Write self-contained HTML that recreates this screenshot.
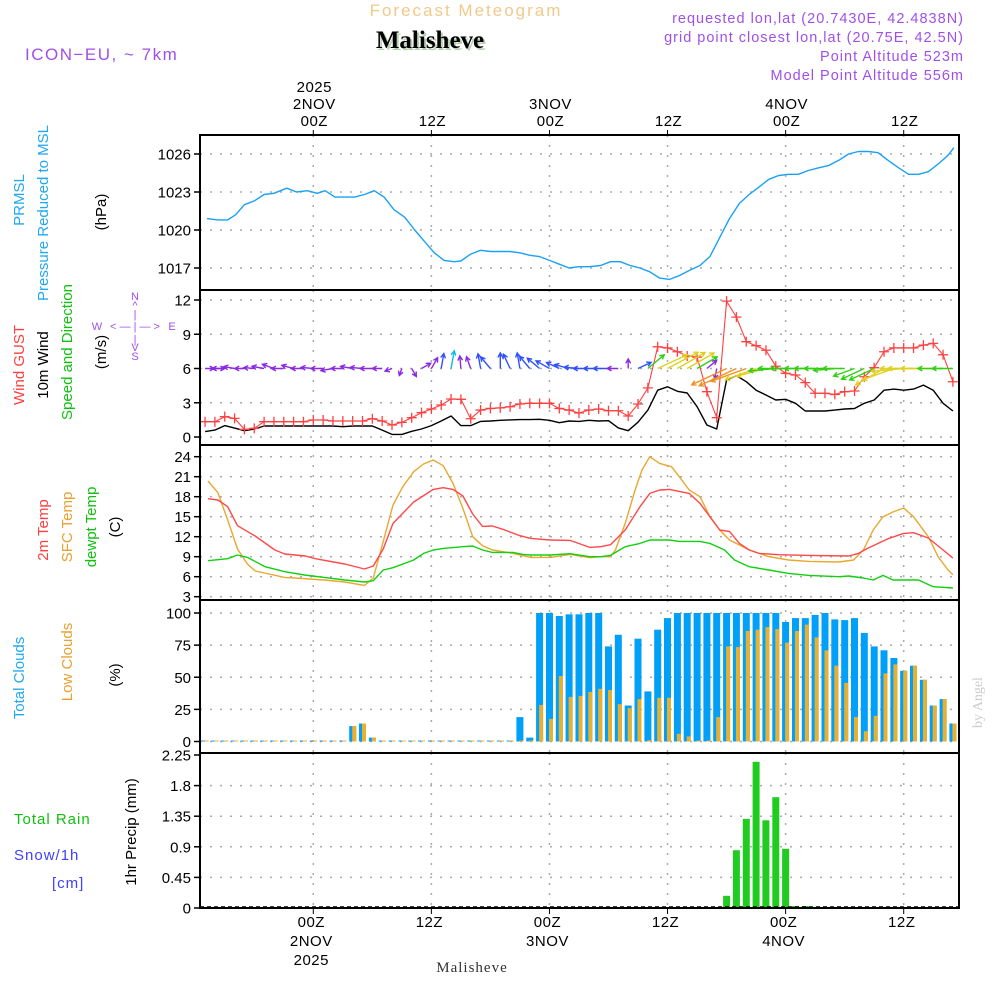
<!DOCTYPE html>
<html><head><meta charset="utf-8"><style>
html,body{margin:0;padding:0;background:#fff;}
svg{display:block;}
</style></head><body>
<svg id="chart" width="1000" height="1000" viewBox="0 0 1000 1000" xmlns="http://www.w3.org/2000/svg" font-family="Liberation Sans, sans-serif">
<rect width="1000" height="1000" fill="#fff"/>
<!-- header -->
<text x="466" y="16" font-size="17" fill="#f2c98a" text-anchor="middle" letter-spacing="2">Forecast Meteogram</text>
<text x="432" y="50" font-size="25" font-weight="bold" fill="#b8d0b0" text-anchor="middle" font-family="Liberation Serif, serif">Malisheve</text>
<text x="430" y="48" font-size="25" font-weight="bold" fill="#000" text-anchor="middle" font-family="Liberation Serif, serif">Malisheve</text>
<text x="25" y="60" font-size="17" fill="#a050e8" letter-spacing="1.5">ICON−EU, ~ 7km</text>
<g font-size="14.5" fill="#a050e8" text-anchor="end" letter-spacing="1">
<text x="964" y="23">requested lon,lat (20.7430E, 42.4838N)</text>
<text x="964" y="42">grid point closest lon,lat (20.75E, 42.5N)</text>
<text x="964" y="61">Point Altitude 523m</text>
<text x="964" y="80">Model Point Altitude 556m</text>
</g>
<text transform="translate(982,728) rotate(-90)" font-size="14" fill="#ccc" font-family="Liberation Serif, serif">by Angel</text>
<text x="472" y="972" font-size="15" fill="#333" text-anchor="middle" font-family="Liberation Serif, serif" letter-spacing="1">Malisheve</text>

<!-- left labels -->
<g font-size="15">
<text transform="translate(24,200) rotate(-90)" fill="#20a8f0" text-anchor="middle">PRMSL</text>
<text transform="translate(48,213) rotate(-90)" fill="#20a8f0" text-anchor="middle">Pressure Reduced to MSL</text>
<text transform="translate(106,212) rotate(-90)" fill="#000" text-anchor="middle">(hPa)</text>
</g>
<g font-size="15">
<text transform="translate(24,365) rotate(-90)" fill="#ff4040" text-anchor="middle">Wind GUST</text>
<text transform="translate(48,365) rotate(-90)" fill="#000" text-anchor="middle">10m Wind</text>
<text transform="translate(72,352) rotate(-90)" fill="#10c010" text-anchor="middle">Speed and Direction</text>
<text transform="translate(106,352) rotate(-90)" fill="#000" text-anchor="middle">(m/s)</text>
<g fill="#a050e8" font-size="11" text-anchor="middle">
<text x="135" y="300">N</text><text x="135" y="309">^</text><text x="135" y="318">|</text>
<text x="135" y="330">&lt; — | — &gt;</text>
<text x="97" y="330">W</text><text x="172" y="330">E</text>
<text x="135" y="343">|</text><text x="135" y="351">V</text><text x="135" y="360">S</text>
</g>
</g>
<g font-size="15">
<text transform="translate(48,530) rotate(-90)" fill="#ff4040" text-anchor="middle">2m Temp</text>
<text transform="translate(72,527) rotate(-90)" fill="#e8a030" text-anchor="middle">SFC Temp</text>
<text transform="translate(96,527) rotate(-90)" fill="#10c010" text-anchor="middle">dewpt Temp</text>
<text transform="translate(120,527) rotate(-90)" fill="#000" text-anchor="middle">(C)</text>
</g>
<g font-size="15">
<text transform="translate(24,678) rotate(-90)" fill="#20a8f0" text-anchor="middle">Total Clouds</text>
<text transform="translate(72,662) rotate(-90)" fill="#e8a030" text-anchor="middle">Low Clouds</text>
<text transform="translate(120,675) rotate(-90)" fill="#000" text-anchor="middle">(%)</text>
</g>
<g font-size="15">
<text x="14" y="824" fill="#10c010" letter-spacing="1">Total  Rain</text>
<text x="14" y="860" fill="#4040ff" letter-spacing="1">Snow/1h</text>
<text x="52" y="888" fill="#4040ff" letter-spacing="1">[cm]</text>
<text transform="translate(136,832) rotate(-90)" fill="#000" text-anchor="middle">1hr Precip (mm)</text>
</g>
<g id="plots"></g>
</svg>
<script>
// ---------- data ----------
const timeTickHours = [0, 12, 24, 36, 48, 60];
const topTickLines1 = ["2025", "", "", "", "", ""];
const topTickLines2 = ["2NOV", "", "3NOV", "", "4NOV", ""];
const topTickLines3 = ["00Z", "12Z", "00Z", "12Z", "00Z", "12Z"];
const botTickLines1 = ["00Z", "12Z", "00Z", "12Z", "00Z", "12Z"];
const botTickLines2 = ["2NOV", "", "3NOV", "", "4NOV", ""];
const botTickLines3 = ["2025", "", "", "", "", ""];

const pressureTicks = [1017, 1020, 1023, 1026];
const pressureHours = [-10.8,-9.7,-8.7,-7.9,-7.0,-6.0,-5.0,-4.0,-2.7,-1.7,-0.6,0.4,1.2,2.2,3.2,4.2,5.2,6.2,7.2,8.2,9.3,10.3,11.3,12.3,13.3,14.3,15,16,17,18,19,20,21,22,23,24,25,26,27,28,29.2,30.2,31.2,32.2,33.2,34.2,35.2,36.2,37.2,38.2,39.3,40.3,41.3,42.3,43.3,44.3,45.3,46.3,47.3,48.3,49.3,50.3,51.3,52.4,53.4,54.4,55.4,56.4,57.4,58.4,59.5,60.5,61.5,62.5,63.5,64.5,65.1];
const pressureVals = [1020.9,1020.8,1020.8,1021.2,1022.0,1022.3,1022.8,1022.9,1023.3,1023.0,1023.1,1022.9,1023.1,1022.6,1022.6,1022.6,1022.8,1023.1,1022.6,1021.6,1021.0,1020.0,1019.1,1018.2,1017.6,1017.5,1017.55,1018.1,1018.4,1018.3,1018.3,1018.3,1018.2,1018.0,1017.9,1017.6,1017.3,1017.0,1017.1,1017.1,1017.2,1017.5,1017.5,1017.2,1017.0,1016.7,1016.2,1016.1,1016.4,1016.8,1017.2,1017.9,1019.4,1020.9,1022.1,1022.8,1023.4,1024.0,1024.3,1024.4,1024.4,1024.7,1024.9,1025.1,1025.5,1026.0,1026.2,1026.2,1026.1,1025.5,1024.9,1024.4,1024.4,1024.6,1025.2,1025.9,1026.5];

const windTicks = [0, 3, 6, 9, 12];
const windStartHour = -11;
const gustVals = [1.34,1.34,1.78,1.63,0.67,0.76,1.34,1.34,1.34,1.34,1.34,1.49,1.49,1.4,1.4,1.4,1.4,1.6,1.4,1.05,1.28,1.69,2.13,2.45,2.8,3.33,3.3,1.6,2.36,2.5,2.55,2.65,2.89,2.95,2.95,2.95,2.5,2.36,2.1,2.36,
 2.45,2.3,2.3,1.84,2.89,4.3,7.9,7.8,7.47,7.1,7.0,3.97,1.69,11.9,10.5,8.35,8.0,7.6,6.2,5.58,5.43,4.76,3.83,3.83,3.73,3.97,4.03,5.28,6.07,7.47,7.8,7.8,7.8,8.05,8.2,7.2,4.84];
const speedVals = [0.47,0.6,1.0,0.78,0.55,0.7,0.96,0.96,0.96,0.96,0.96,0.96,0.96,0.96,0.9,0.96,0.96,0.96,0.6,0.23,0.23,0.5,0.7,1.0,1.4,1.84,1.0,1.0,1.37,1.4,1.46,1.5,1.52,1.52,1.55,1.46,1.25,1.4,1.37,1.46,
 1.4,1.43,0.8,0.55,1.3,2.36,4.1,4.4,4.0,3.85,2.65,1.05,0.7,5.0,5.37,4.84,4.1,3.68,3.24,3.3,2.95,2.28,2.28,2.28,2.36,2.45,2.5,2.95,3.24,4.1,4.2,4.1,4.2,4.55,4.1,2.95,2.28];
const windDirDeg = [0,0,180,170,180,175,170,160,180,165,180,175,180,190,180,170,175,180,180,200,250,300,30,60,80,80,95,110,100,130,90,115,100,130,140,150,155,165,175,180,180,180,180,90,25,40,25,28,30,30,30,40,260,205,205,200,200,195,185,180,180,180,180,180,185,180,200,205,205,210,200,185,180,180,180,180,180];

const tempTicks = [3, 6, 9, 12, 15, 18, 21, 24];
const t2mHours = [-10.7,-9.7,-8.7,-7.7,-5.9,-3.9,-2.9,-0.8,0.2,3.2,5.2,6.1,7.1,8.1,10.2,12.2,13.2,14.2,15.2,16.2,17.2,18.2,19.3,20.9,22.1,24.1,26.1,28.1,29.2,30.2,31.7,33.2,34.2,35.2,36.2,37.2,38.2,39.3,40.3,41.3,42.3,43.3,44.3,45.3,47.3,50.4,54.4,55.4,56.4,58.4,60,61,62.5,64,65];
const t2mVals = [17.7,17.5,16.5,13.65,12.1,10.0,9.4,9.1,8.7,7.9,7.15,7.6,10.15,14.0,17.2,19.1,19.35,19.1,18.1,15.4,13.55,13.6,13.1,12.2,11.75,11.5,11.45,10.4,10.5,10.8,13,16.5,18.5,19,19.1,18.8,18.5,17,15,13,12.8,11,10,9.5,9.3,9.2,9.1,9.5,10.3,11.7,12.5,12.6,11.8,10,8.8];
const sfcHours = [-10.7,-9.7,-8.7,-7.7,-6.7,-5.9,-2.9,-1.9,1.1,3.2,5.2,6.1,7.1,8.1,9.1,10.2,11.2,12.2,13.2,14.2,15.2,16.2,17.2,18.2,19.3,20.3,22.1,24.1,26.1,28.1,29.2,30.2,30.7,31.7,32.7,33.4,34.2,35.2,36.4,37.2,38.2,39.3,40.3,41.3,42.3,44.3,46.3,48.3,50.4,53.4,54.9,55.9,56.9,57.9,58.9,60,61,62.5,63.5,64.5,65];
const sfcVals = [20.35,18.6,14.5,10.15,7.9,6.85,5.9,5.8,5.5,5.2,4.7,5.8,11.25,16.75,19.5,21.75,22.9,23.5,22.65,20,16.25,12,10.65,10,9.75,9.5,8.9,8.9,9.35,8.85,9,9,10,14,19,22,24,23,22.5,21,19,18,15,13,11.5,10,9,8.5,8.3,8.2,8.5,10,13,15,15.7,16.3,15,12,9,7,6.3];
const dewHours = [-10.7,-8.7,-7.7,-6.7,-4.9,-2.9,-0.9,1.1,3.2,5.2,6.1,7.1,8.1,10.2,11.2,12.2,13.2,15.2,16.2,17.2,18.2,20.3,21.3,22.1,24.1,26.1,28.1,29.2,30.2,31.7,33.2,34.2,36.2,37.2,39.3,40.3,41.8,42.8,44.3,46.3,48.3,50.4,53.4,54.4,55.9,56.9,57.9,58.9,61.5,63,65];
const dewVals = [8.4,8.7,9.25,8.9,7.5,6.75,6.25,5.9,5.5,5.2,5.4,7,7.35,8.5,9.5,10,10.25,10.5,10.6,10,9.65,9.65,9.35,9.25,9.25,9.45,9.0,9,9.2,10.5,11,11.5,11.5,11.3,11.3,11,10,8.5,7.5,7,6.5,6.2,6,6.1,5.8,5.5,6.2,5.5,5.5,4.5,4.3];

const cloudTicks = [0, 25, 50, 75, 100];
const cloudStartHour = -11;
const totalCloudVals = [0,0,0,0,0,0,0,0,0,0,0,0,0,0,0,12,14,3,0,0,0,0,0,0,0,0,0,0,0,0,0,0,19,3,
 100,100,97.7,99,99,100,100,74,83,28,80,39,87,96,100,100,100,100,100,100,100,100,100,100,100,93,96,96,98.5,100,95,94.5,96,84.5,74,71,65,55,59,48,28,33,14];
const lowCloudVals = [0,0,0,0,0,0,0,0,0,0,0,0,0,0,0,12,14,3,0,0,0,0,0,0,0,0,0,0,0,0,0,0,0,0,
 28.5,17.6,51,34.7,35.5,38.6,41,40,29,26,33,1,34,34,6,4,0,0,19,74,73.5,86,87,89,87.5,77,86,91,81,71,59,45.6,19,8,20,53,60,55,59,48,28,33,14];

const precipTicks = [0, 0.45, 0.9, 1.35, 1.8, 2.25];
const precipTickLabels = ["0", "0.45", "0.9", "1.35", "1.8", "2.25"];
const precipStartHour = 42;
const precipVals = [0.18,0.85,1.31,2.15,1.29,1.63,0.87,0.03,0.03];

// ---------- layout ----------
const NS = "http://www.w3.org/2000/svg";
const plots = document.getElementById("plots");
const L = 200, R = 959;
const xT = t => 313.3 + t * 9.84;
function lin(d0, d1, r0, r1) { return v => r0 + (v - d0) * (r1 - r0) / (d1 - d0); }
const yP = lin(1017, 1026, 268, 154);
const yW = lin(0, 12, 437, 300);
const yTe = lin(3, 24, 596.7, 456.7);
const yC = lin(0, 100, 741.5, 613);
const yR = lin(0, 2.25, 908, 755);
const panels = [[135,290],[290,445],[445,600],[600,753],[753,908]];

function el(tag, attrs, parent) {
  const e = document.createElementNS(NS, tag);
  for (const k in attrs) e.setAttribute(k, attrs[k]);
  (parent || plots).appendChild(e);
  return e;
}
function txt(s, x, y, attrs, parent) { const e = el("text", Object.assign({x, y}, attrs), parent); e.textContent = s; return e; }

function yAxis(ticks, yf, labels, top, bot, name) {
  const g = el("g", {});
  
  
  ticks.forEach((v, i) => {
    const y = yf(v);
    if (y > top + 2 && y < bot - 2) el("line", {x1: L, x2: R, y1: y, y2: y, stroke: "#aaa", "stroke-width": 1.5, "stroke-dasharray": "2,8"}, g);
    el("line", {x1: L - 6, x2: L, y1: y, y2: y, stroke: "#000", "stroke-width": 1.5}, g);
    txt(labels ? labels[i] : String(v), 191, y + 5.5, {"font-size": 15, "text-anchor": "end", fill: "#000"}, g);
  });
}
panels.forEach(([top, bot], i) => {
  const g = el("g", {});
  
  
  timeTickHours.forEach(t => {
    el("line", {x1: xT(t), x2: xT(t), y1: top, y2: bot, stroke: "#aaa", "stroke-width": 1.5, "stroke-dasharray": "2,8"}, g);
  });
});
yAxis(pressureTicks, yP, null, 135, 290, "pressure-y-axis");
yAxis(windTicks, yW, null, 290, 445, "wind-y-axis");
yAxis(tempTicks, yTe, null, 445, 600, "temp-y-axis");
yAxis(cloudTicks, yC, null, 600, 753, "cloud-y-axis");
yAxis(precipTicks, yR, precipTickLabels, 753, 908, "precip-y-axis");

const topG = el("g", {"font-size": 15, "text-anchor": "middle", fill: "#000", "letter-spacing": 0.5});


timeTickHours.forEach((t, i) => {
  const x = xT(t) + 1;
  if (topTickLines1[i]) txt(topTickLines1[i], x, 92, {}, topG);
  if (topTickLines2[i]) txt(topTickLines2[i], x, 109, {}, topG);
  txt(topTickLines3[i], x, 126, {}, topG);
  el("line", {x1: xT(t), x2: xT(t), y1: 130, y2: 135, stroke: "#000"}, topG);
});
const botG = el("g", {"font-size": 15, "text-anchor": "middle", fill: "#000", "letter-spacing": 0.5});


timeTickHours.forEach((t, i) => {
  const x = xT(t) - 2;
  txt(botTickLines1[i], x, 927, {}, botG);
  if (botTickLines2[i]) txt(botTickLines2[i], x, 946, {}, botG);
  if (botTickLines3[i]) txt(botTickLines3[i], x, 965, {}, botG);
  el("line", {x1: xT(t), x2: xT(t), y1: 908, y2: 914, stroke: "#000"}, botG);
});

function line(hours, vals, yf, color, name, w) {
  const d = hours.map((h, i) => (i ? "L" : "M") + xT(h).toFixed(1) + "," + yf(vals[i]).toFixed(1)).join("");
  const p = el("path", {d, fill: "none", stroke: color, "stroke-width": w || 1.4, "stroke-linejoin": "round"});
  
  
  return p;
}

line(pressureHours, pressureVals, yP, "#1aa0f5", "pressure-line", 1.4);

const windHours = speedVals.map((_, i) => windStartHour + i);
line(windHours, speedVals, yW, "#000", "wind-speed-line", 1.4);
line(windHours, gustVals, yW, "#ff4040", "wind-gust-line", 1.1);
const gustG = el("g", {stroke: "#ff4040", "stroke-width": 1.3});


gustVals.forEach((v, i) => {
  const x = xT(windHours[i]), y = yW(v);
  el("path", {d: `M${x-5},${y}H${x+5}M${x},${y-5}V${y+5}`}, gustG);
});
function windColor(s) {
  if (s < 1.2) return "#8a2be2";
  if (s < 1.6) return "#3050ff";
  if (s < 2.2) return "#10b8f0";
  if (s < 3.5) return "#30d010";
  if (s < 4.8) return "#e0d020";
  return "#f09020";
}
const arrowG = el("g", {"stroke-width": 1.4, fill: "none"});


windDirDeg.forEach((deg, i) => {
  const s = speedVals[i];
  const len = 6 + 6.5 * s;
  const a = deg * Math.PI / 180;
  const x0 = xT(windHours[i]), y0 = yW(6);
  const x1 = x0 + len * Math.cos(a), y1 = y0 - len * Math.sin(a);
  const h = 5, b1 = a + Math.PI - 0.5, b2 = a + Math.PI + 0.5;
  const p = el("path", {stroke: windColor(s), d: `M${x0.toFixed(1)},${y0}L${x1.toFixed(1)},${y1.toFixed(1)}M${(x1 + h*Math.cos(b1)).toFixed(1)},${(y1 - h*Math.sin(b1)).toFixed(1)}L${x1.toFixed(1)},${y1.toFixed(1)}L${(x1 + h*Math.cos(b2)).toFixed(1)},${(y1 - h*Math.sin(b2)).toFixed(1)}`}, arrowG);
  
  
});

line(sfcHours, sfcVals, yTe, "#e8a830", "sfc-temp-line", 1.4);
line(t2mHours, t2mVals, yTe, "#ff4848", "temp-2m-line", 1.4);
line(dewHours, dewVals, yTe, "#10d010", "dewpoint-line", 1.4);

const cloudG = el("g", {});


totalCloudVals.forEach((v, i) => {
  const xc = xT(cloudStartHour + i);
  const y0 = yC(0);
  const yt = Math.min(yC(v), y0 - 1);
  const b = el("rect", {x: (xc - 3.5).toFixed(1), y: yt.toFixed(1), width: 7, height: (y0 - yt).toFixed(1), fill: "#009ff8"}, cloudG);
  
  
  const lv = lowCloudVals[i];
  const yl = Math.min(yC(lv), y0 - 1);
  const c = el("rect", {x: (xc - 0.5).toFixed(1), y: yl.toFixed(1), width: 4, height: (y0 - yl).toFixed(1), fill: "#e8b030"}, cloudG);
  
  
});

const rainG = el("g", {});


precipVals.forEach((v, i) => {
  const xc = xT(precipStartHour + i);
  const y0 = yR(0), yt = yR(v);
  const b = el("rect", {x: (xc - 3.5).toFixed(1), y: yt.toFixed(1), width: 7, height: (y0 - yt).toFixed(1), fill: "#20cc20"}, rainG);
  
  
});
el("line", {x1: L, x2: R, y1: 907, y2: 907, stroke: "#000", "stroke-width": 1.5, "stroke-dasharray": "4,3"});

panels.forEach(([top, bot], i) => {
  const r = el("rect", {x: L, y: top, width: R - L, height: bot - top, fill: "none", stroke: "#000", "stroke-width": 2});
  
  
});
</script>
</body></html>
